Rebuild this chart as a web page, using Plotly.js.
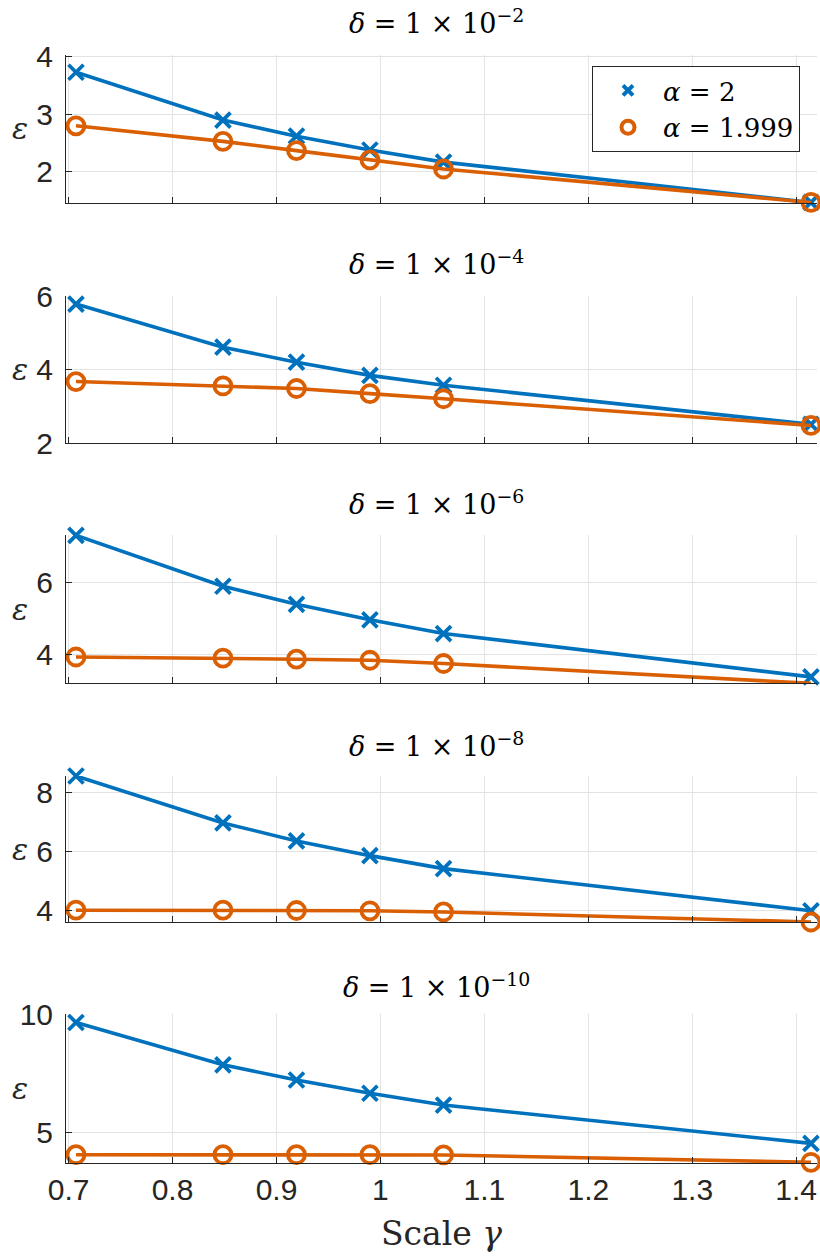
<!DOCTYPE html>
<html>
<head>
<meta charset="utf-8">
<script src="https://cdn.plot.ly/plotly-3.0.1.min.js"></script>
<style>html,body{margin:0;padding:0;background:#fff;}</style>
</head>
<body>
<div id="chart" style="width:820px;height:1259px;"></div>
<script>
// Scale values gamma (multiples of sqrt(2))
const gamma = [0.7071, 0.8485, 0.9192, 0.9899, 1.0607, 1.4142];

// Noise levels, one panel each
const deltaExponents = [-2, -4, -6, -8, -10];

// Error epsilon for alpha = 2
const epsA2_d2  = [3.73, 2.90, 2.62, 2.38, 2.17, 1.47];
const epsA2_d4  = [5.80, 4.62, 4.21, 3.85, 3.58, 2.51];
const epsA2_d6  = [7.30, 5.89, 5.39, 4.96, 4.58, 3.38];
const epsA2_d8  = [8.55, 6.96, 6.35, 5.85, 5.41, 3.98];
const epsA2_d10 = [9.64, 7.85, 7.21, 6.65, 6.15, 4.53];

// Error epsilon for alpha = 1.999
const epsA1999_d2  = [2.80, 2.53, 2.37, 2.21, 2.05, 1.47];
const epsA1999_d4  = [3.68, 3.56, 3.49, 3.35, 3.21, 2.48];
const epsA1999_d6  = [3.93, 3.90, 3.87, 3.84, 3.75, 3.20];
const epsA1999_d8  = [4.00, 4.00, 3.99, 3.98, 3.94, 3.60];
const epsA1999_d10 = [4.05, 4.05, 4.05, 4.05, 4.04, 3.73];

// y-axis ranges and tick steps per panel
const yRanges = [[1.46, 4.03], [2, 6.02], [3.21, 7.31], [3.6, 8.55], [3.7, 10.0]];
const yTickSteps = [1, 2, 2, 2, 5];

const seriesA2 = [epsA2_d2, epsA2_d4, epsA2_d6, epsA2_d8, epsA2_d10];
const seriesA1999 = [epsA1999_d2, epsA1999_d4, epsA1999_d6, epsA1999_d8, epsA1999_d10];

const W = 820, H = 1259;
const BLUE = '#0072BD', ORANGE = '#D95F02', AXIS = '#262626';
const SANS = 'Liberation Sans, Arial, sans-serif';
const SERIF = 'DejaVu Serif, Liberation Serif, serif';

// plot-area pixel boxes (top, bottom) for each panel
const panelPx = [[55, 203], [296, 443], [535, 683], [776, 922], [1014, 1163]];
const titlePx = [22, 263, 503, 745, 985];
const plotLeft = 66, plotRight = 817;

const traces = [];
const layout = {
  width: W, height: H,
  margin: {l: 0, r: 0, t: 0, b: 0},
  paper_bgcolor: '#fff', plot_bgcolor: '#fff',
  showlegend: true,
  legend: {
    x: 592 / W, y: 1 - 66 / H, xanchor: 'left', yanchor: 'top',
    bgcolor: '#fff', bordercolor: AXIS, borderwidth: 1,
    font: {family: SERIF, size: 26, color: '#000'},
    itemwidth: 60, tracegroupgap: 0
  },
  annotations: []
};

for (let i = 0; i < 5; i++) {
  const n = i === 0 ? '' : String(i + 1);
  const xa = 'x' + n, ya = 'y' + n;
  const [top, bot] = panelPx[i];
  const last = i === 4;

  layout['xaxis' + n] = {
    domain: [plotLeft / W, plotRight / W],
    range: [0.6975, 1.42],
    anchor: ya,
    tick0: 0.7, dtick: 0.1,
    showgrid: true, gridcolor: '#e3e3e3', gridwidth: 1,
    zeroline: false,
    showline: true, linecolor: AXIS, linewidth: 1,
    ticks: 'inside', ticklen: 6, tickcolor: AXIS,
    showticklabels: last,
    tickfont: {family: SANS, size: 30, color: AXIS},
    fixedrange: true
  };
  if (last) {
    layout['xaxis' + n].title = {
      text: 'Scale <i>γ</i>',
      font: {family: SERIF, size: 33, color: AXIS},
      standoff: 16
    };
  }
  layout['yaxis' + n] = {
    domain: [1 - bot / H, 1 - top / H],
    range: yRanges[i],
    anchor: xa,
    dtick: yTickSteps[i],
    showgrid: true, gridcolor: '#e3e3e3', gridwidth: 1,
    zeroline: false,
    showline: true, linecolor: AXIS, linewidth: 1,
    ticks: 'inside', ticklen: 6, tickcolor: AXIS,
    ticklabelstandoff: 6,
    tickfont: {family: SANS, size: 30, color: AXIS},
    fixedrange: true
  };

  traces.push({
    x: gamma, y: seriesA2[i], xaxis: xa, yaxis: ya,
    mode: 'lines+markers', showlegend: false, cliponaxis: false,
    line: {color: BLUE, width: 3.6},
    marker: {symbol: 'x-thin-open', size: 15, color: BLUE, line: {color: BLUE, width: 3.8}}
  });
  traces.push({
    x: gamma, y: seriesA1999[i], xaxis: xa, yaxis: ya,
    mode: 'lines+markers', showlegend: false, cliponaxis: false,
    line: {color: ORANGE, width: 3.6},
    marker: {symbol: 'circle-open', size: 17, color: ORANGE, line: {color: ORANGE, width: 3.8}}
  });

  // panel title
  layout.annotations.push({
    xref: 'paper', yref: 'paper', x: 436 / W, y: 1 - titlePx[i] / H,
    xanchor: 'center', yanchor: 'middle', showarrow: false,
    text: '<i>δ</i> = 1 × 10<sup>−' + String(-deltaExponents[i]) + '</sup>',
    font: {family: SERIF, size: 27, color: '#000'}
  });
  // y-axis label
  layout.annotations.push({
    xref: 'paper', yref: 'paper', x: 20 / W, y: 1 - (top + bot) / 2 / H,
    xanchor: 'center', yanchor: 'middle', showarrow: false,
    text: '<i>ε</i>',
    font: {family: SERIF, size: 30, color: AXIS}
  });
}

// legend entries (marker only)
traces.push({
  x: [null], y: [null], mode: 'markers', name: '<i>α</i> = 2',
  marker: {symbol: 'x-thin-open', size: 10, color: BLUE, line: {color: BLUE, width: 4}}
});
traces.push({
  x: [null], y: [null], mode: 'markers', name: '<i>α</i> = 1.999',
  marker: {symbol: 'circle-open', size: 13, color: ORANGE, line: {color: ORANGE, width: 4}}
});

Plotly.newPlot('chart', traces, layout, {displayModeBar: false, staticPlot: true});
</script>
</body>
</html>
